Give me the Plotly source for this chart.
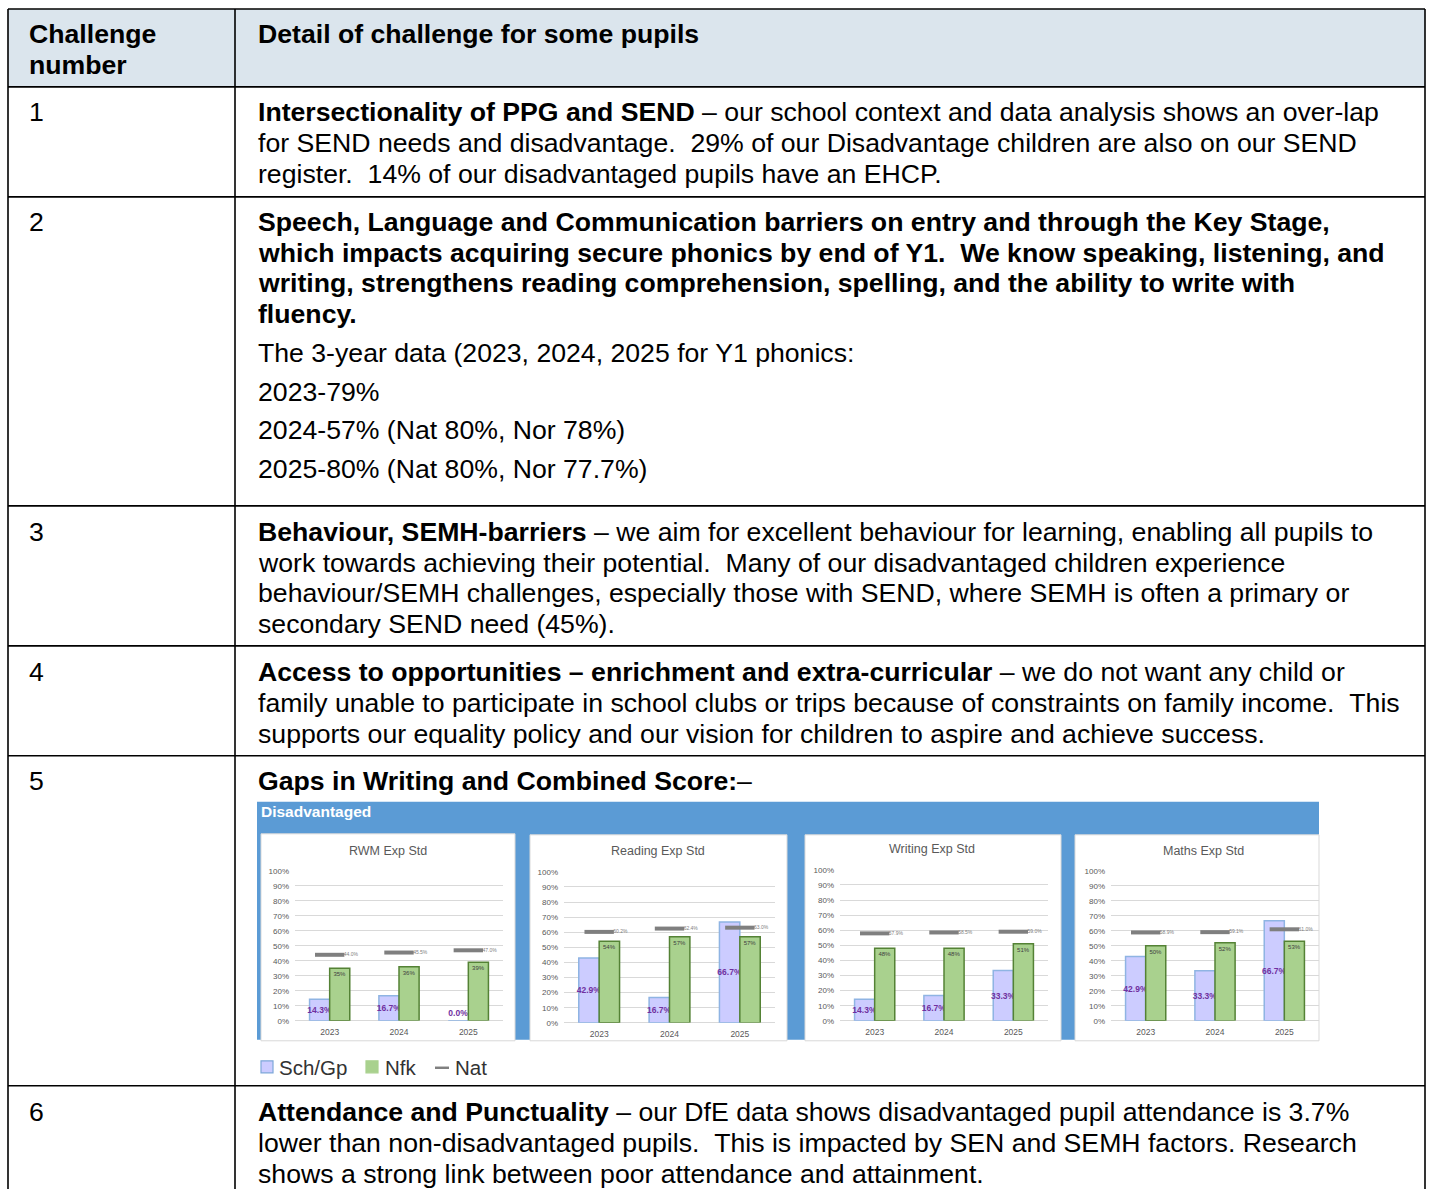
import plotly.graph_objects as go

# ---------------- data ----------------
years = ["2023", "2024", "2025"]
chart_titles = ["RWM Exp Std", "Reading Exp Std", "Writing Exp Std", "Maths Exp Std"]

rwm_sch = [14.3, 16.7, 0.0]
rwm_nfk = [35, 36, 39]
rwm_nat = [44.0, 45.5, 47.0]

reading_sch = [42.9, 16.7, 66.7]
reading_nfk = [54, 57, 57]
reading_nat = [60.2, 62.4, 63.0]

writing_sch = [14.3, 16.7, 33.3]
writing_nfk = [48, 48, 51]
writing_nat = [57.9, 58.5, 59.0]

maths_sch = [42.9, 33.3, 66.7]
maths_nfk = [50, 52, 53]
maths_nat = [58.9, 59.1, 61.0]

series_names = ["Sch/Gp", "Nfk", "Nat"]
panel_title = "Disadvantaged"

header_left = ["Challenge", "number"]
header_right = "Detail of challenge for some pupils"
row_numbers = ["1", "2", "3", "4", "5", "6"]
row_lines = [
    ["<b>Intersectionality of PPG and SEND</b> – our school context and data analysis shows an over-lap",
     "for SEND needs and disadvantage.  29% of our Disadvantage children are also on our SEND",
     "register.  14% of our disadvantaged pupils have an EHCP."],
    ["<b>Speech, Language and Communication barriers on entry and through the Key Stage,</b>",
     "<b>which impacts acquiring secure phonics by end of Y1.  We know speaking, listening, and</b>",
     "<b>writing, strengthens reading comprehension, spelling, and the ability to write with</b>",
     "<b>fluency.</b>",
     "The 3-year data (2023, 2024, 2025 for Y1 phonics:",
     "2023-79%",
     "2024-57% (Nat 80%, Nor 78%)",
     "2025-80% (Nat 80%, Nor 77.7%)"],
    ["<b>Behaviour, SEMH-barriers</b> – we aim for excellent behaviour for learning, enabling all pupils to",
     "work towards achieving their potential.  Many of our disadvantaged children experience",
     "behaviour/SEMH challenges, especially those with SEND, where SEMH is often a primary or",
     "secondary SEND need (45%)."],
    ["<b>Access to opportunities – enrichment and extra-curricular</b> – we do not want any child or",
     "family unable to participate in school clubs or trips because of constraints on family income.  This",
     "supports our equality policy and our vision for children to aspire and achieve success."],
    ["<b>Gaps in Writing and Combined Score:</b>–"],
    ["<b>Attendance and Punctuality</b> – our DfE data shows disadvantaged pupil attendance is 3.7%",
     "lower than non-disadvantaged pupils.  This is impacted by SEN and SEMH factors. Research",
     "shows a strong link between poor attendance and attainment."],
]

sch_sets = [rwm_sch, reading_sch, writing_sch, maths_sch]
nfk_sets = [rwm_nfk, reading_nfk, writing_nfk, maths_nfk]
nat_sets = [rwm_nat, reading_nat, writing_nat, maths_nat]

# ---------------- layout helpers (pixel -> paper) ----------------
W, H = 1430, 1189
VOFF, VSCALE = 4.07, 0.99257   # compensation for vertical placement in capture
def X(px): return px / W
def Y(py): return 1 - ((py - VOFF) / VSCALE) / H

FONT = "Liberation Sans, Arial, sans-serif"
TSIZE = 26.65
fig = go.Figure()
shapes = []
annotations = []

def rect(x0, y0, x1, y1, fill=None, line=None, lw=0, layer="below"):
    shapes.append(dict(type="rect", xref="paper", yref="paper",
                       x0=X(x0), x1=X(x1), y0=Y(y1), y1=Y(y0),
                       fillcolor=fill if fill else "rgba(0,0,0,0)",
                       line=dict(color=line if line else "rgba(0,0,0,0)", width=lw),
                       layer=layer))

def hline(x0, x1, y, color="black", w=1.6, layer="above"):
    shapes.append(dict(type="line", xref="paper", yref="paper",
                       x0=X(x0), x1=X(x1), y0=Y(y), y1=Y(y),
                       line=dict(color=color, width=w), layer=layer))

def vline(x, y0, y1, color="black", w=1.6, layer="above"):
    shapes.append(dict(type="line", xref="paper", yref="paper",
                       x0=X(x), x1=X(x), y0=Y(y0), y1=Y(y1),
                       line=dict(color=color, width=w), layer=layer))

def text(x, y, s, size=TSIZE, color="black", anchor="left", family=FONT):
    s = s.replace("  ", " \u00a0")
    annotations.append(dict(xref="paper", yref="paper", x=X(x), y=Y(y),
                            text=s, showarrow=False, xanchor=anchor, yanchor="middle",
                            font=dict(family=family, size=size, color=color),
                            borderpad=0))

# ---------------- table ----------------
TL, TR, TT, TB = 8, 1425, 9, 1200
COLX = 235
rect(TL, TT, TR, 87, fill="#dbe5ed")
row_bounds = [87, 197, 506, 646, 756, 1086]
for yb in row_bounds:
    hline(TL, TR, yb)
hline(TL, TR, TT)
vline(TL, TT, TB)
vline(TR, TT, TB)
vline(COLX, TT, TB)

text(28, 34, "<b>" + header_left[0] + "</b>")
text(28, 65, "<b>" + header_left[1] + "</b>")
text(257, 34, "<b>" + header_right + "</b>")

row_line_y = [
    [112, 143, 174],
    [222, 253, 283, 314, 353, 392, 430, 469],
    [532, 563, 593, 624],
    [672, 703, 734],
    [781],
    [1112, 1143, 1174],
]
for num, lines, ys in zip(row_numbers, row_lines, row_line_y):
    text(28, ys[0], num)
    for s, yy in zip(lines, ys):
        text(257, yy, s)

# ---------------- chart panel ----------------
rect(257, 802, 1319, 1040, fill="#5b9bd5")
text(260, 812, "<b>" + panel_title + "</b>", size=15.5, color="white")

charts = [
    dict(x0=295, x1=503, ytop=871, ybot=1021, tx=388, ty=851, box=(261, 834, 515, 1041)),
    dict(x0=564, x1=775, ytop=872, ybot=1023, tx=658, ty=851, box=(530, 835, 787, 1041)),
    dict(x0=840, x1=1048, ytop=870, ybot=1021, tx=932, ty=849, box=(805, 835, 1061, 1041)),
    dict(x0=1111, x1=1319, ytop=871, ybot=1021, tx=1203, ty=851, box=(1075, 835, 1319, 1041)),
]

SCH_FILL, SCH_LINE = "#ccccff", "#8fb4e3"
NFK_FILL, NFK_LINE = "#a9d18e", "#548235"
NAT_COL = "#7f7f7f"
PURPLE = "#7030a0"

layout_axes = {}
for i, c in enumerate(charts):
    n = i + 1
    sfx = "" if n == 1 else str(n)
    bx = c["box"]
    rect(bx[0], bx[1], bx[2], bx[3], fill="white", line="#d9d9d9", lw=1)
    text(c["tx"], c["ty"], chart_titles[i], size=12.5, color="#595959", anchor="center")

    sch = sch_sets[i]
    nfk = nfk_sets[i]
    nat = nat_sets[i]
    sch_pos = ["inside" if v > 0 else "outside" for v in sch]
    fig.add_trace(go.Bar(
        x=years, y=sch, name=series_names[0], xaxis="x" + sfx, yaxis="y" + sfx,
        marker=dict(color=SCH_FILL, line=dict(color=SCH_LINE, width=1.5)),
        texttemplate="<b>%{y:.1f}%</b>", textposition=sch_pos, insidetextanchor="middle",
        textangle=0, constraintext="none", cliponaxis=False,
        textfont=dict(family=FONT, size=8.5, color=PURPLE),
        insidetextfont=dict(family=FONT, size=8.5, color=PURPLE),
        outsidetextfont=dict(family=FONT, size=8.5, color=PURPLE),
        showlegend=False, offsetgroup="a"))
    fig.add_trace(go.Bar(
        x=years, y=nfk, name=series_names[1], xaxis="x" + sfx, yaxis="y" + sfx,
        marker=dict(color=NFK_FILL, line=dict(color=NFK_LINE, width=1.5)),
        texttemplate="%{y:.0f}%", textposition="inside", insidetextanchor="end",
        textangle=0, constraintext="none",
        insidetextfont=dict(family=FONT, size=6, color="#404040"),
        showlegend=False, offsetgroup="b"))
    fig.add_trace(go.Scatter(
        x=years, y=nat, name=series_names[2], xaxis="x" + sfx, yaxis="y" + sfx,
        mode="markers+text",
        marker=dict(symbol="line-ew", size=21, line=dict(color=NAT_COL, width=4)),
        texttemplate="%{y:.1f}%", textposition="middle right",
        textfont=dict(family=FONT, size=5, color="#808080"),
        showlegend=False, cliponaxis=False))

    layout_axes["xaxis" + sfx] = dict(
        domain=[X(c["x0"]), X(c["x1"])], anchor="y" + sfx, type="category",
        showgrid=False, showline=False, zeroline=False, ticks="",
        tickfont=dict(family=FONT, size=8.5, color="#595959"),
        ticklabelstandoff=5, fixedrange=True)
    layout_axes["yaxis" + sfx] = dict(
        domain=[Y(c["ybot"]), Y(c["ytop"])], anchor="x" + sfx,
        range=[0, 100], dtick=10, ticksuffix="%",
        showgrid=True, gridcolor="#d9d9d9", gridwidth=1,
        zeroline=True, zerolinecolor="#d9d9d9", zerolinewidth=1,
        showline=False, ticks="",
        tickfont=dict(family=FONT, size=8, color="#595959"),
        ticklabelstandoff=5, fixedrange=True)

# ---------------- legend (drawn) ----------------
rect(261, 1061, 273, 1073, fill=SCH_FILL, line="#7da7d9", lw=1.2, layer="above")
text(278, 1068, series_names[0], size=20.5, color="#333333")
rect(366, 1061, 378, 1073, fill=NFK_FILL, line=NFK_FILL, lw=1.2, layer="above")
text(384, 1068, series_names[1], size=20.5, color="#333333")
hline(435, 449, 1068, color="#808080", w=2.5)
text(454, 1068, series_names[2], size=20.5, color="#333333")

fig.update_layout(
    width=W, height=H, autosize=False,
    margin=dict(l=0, r=0, t=0, b=0, pad=0),
    paper_bgcolor="white", plot_bgcolor="white",
    barmode="group", bargap=0.42, bargroupgap=0,
    shapes=shapes, annotations=annotations,
    showlegend=False,
    font=dict(family=FONT),
    **layout_axes,
)

fig.write_html("out.html", config={"displayModeBar": False},
               post_script="document.body.style.margin='0';document.body.style.overflow='hidden';")
